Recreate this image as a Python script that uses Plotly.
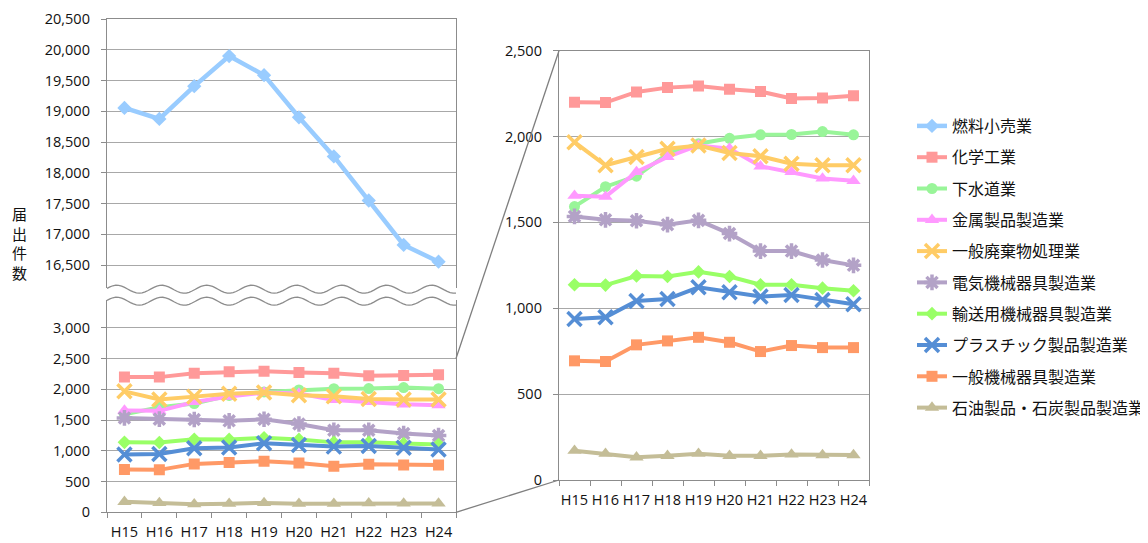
import numpy as np
import plotly.graph_objects as go

# ---------------- data ----------------
categories = ["H15", "H16", "H17", "H18", "H19", "H20", "H21", "H22", "H23", "H24"]

fuel_retail = [19054, 18875, 19408, 19897, 19587, 18902, 18266, 17549, 16826, 16554]
chemical = [2200, 2198, 2260, 2285, 2295, 2275, 2262, 2222, 2225, 2237]
sewerage = [1592, 1708, 1769, 1900, 1958, 1990, 2010, 2012, 2029, 2010]
metal_products = [1656, 1650, 1794, 1881, 1948, 1930, 1827, 1794, 1756, 1742]
waste_treatment = [1967, 1833, 1881, 1929, 1948, 1904, 1885, 1842, 1833, 1833]
electrical_machinery = [1535, 1515, 1510, 1487, 1512, 1435, 1333, 1333, 1281, 1250]
transport_machinery = [1137, 1135, 1188, 1185, 1212, 1185, 1137, 1137, 1117, 1102]
plastic_products = [938, 948, 1043, 1054, 1122, 1093, 1068, 1078, 1048, 1023]
general_machinery = [694, 690, 787, 810, 831, 802, 748, 783, 771, 771]
petroleum_coal = [171, 153, 132, 141, 153, 141, 141, 149, 145, 145]

series_names = ["化学工業", "下水道業", "金属製品製造業", "一般廃棄物処理業", "電気機械器具製造業",
                "輸送用機械器具製造業", "プラスチック製品製造業", "一般機械器具製造業", "石油製品・石炭製品製造業"]
series_values = [chemical, sewerage, metal_products, waste_treatment, electrical_machinery,
                 transport_machinery, plastic_products, general_machinery, petroleum_coal]

# ---------------- styles ----------------
colors = ["#FF9999", "#99F599", "#FF99FF", "#FFCC66", "#B3A2C7",
          "#99FF66", "#558ED5", "#FF9966", "#C4BD97"]
symbols = ["square", "circle", "triangle-up", "x-thin-open", "asterisk-open",
           "diamond", "x-thin-open", "square", "triangle-up"]
sizes = [11, 11, 12.5, 14, 13, 10.5, 14, 11, 12.5]

W, H = 1148, 543
OFF = 8  # page body margin offset
def py(p):  # screen pixel y -> paper
    return 1 - (p - OFF) / H
def px(p):
    return (p - OFF) / W

# panel geometry (screen pixels)
LX0, LX1 = 107, 456
RX0, RX1 = 559, 869
TOP_Y0, TOP_Y1 = 19, 288
BOT_Y0, BOT_Y1 = 300, 512.3
R_Y0, R_Y1 = 50.7, 480

scale = 246 / 4000.0  # px per unit
top_range = [20500 - (TOP_Y1 - TOP_Y0) / scale, 20500]
bot_range = [0, (BOT_Y1 - BOT_Y0) / scale]
right_range = [0, 2500]

fig = go.Figure()

fig.add_trace(go.Scatter(
    x=categories, y=fuel_retail, name="燃料小売業", xaxis="x2", yaxis="y2",
    mode="lines+markers", line=dict(color="#99CCFF", width=4.5),
    marker=dict(symbol="diamond", size=11, color="#99CCFF"),
    legendgroup="g0"))

for i, (nm, vals) in enumerate(zip(series_names, series_values)):
    mk = dict(symbol=symbols[i], size=sizes[i], color=colors[i])
    if "open" in symbols[i]:
        mk["line"] = dict(color=colors[i], width=3.5)
    fig.add_trace(go.Scatter(
        x=categories, y=vals, name=nm, xaxis="x", yaxis="y",
        mode="lines+markers", line=dict(color=colors[i], width=4),
        marker=mk, legendgroup="g%d" % (i + 1)))

for i, (nm, vals) in enumerate(zip(series_names, series_values)):
    mk = dict(symbol=symbols[i], size=sizes[i], color=colors[i])
    if "open" in symbols[i]:
        mk["line"] = dict(color=colors[i], width=3.5)
    fig.add_trace(go.Scatter(
        x=categories, y=vals, name=nm, xaxis="x3", yaxis="y3",
        mode="lines+markers", line=dict(color=colors[i], width=4),
        marker=mk, showlegend=False, legendgroup="g%d" % (i + 1)))

AX = "#8C8C8C"
GRID = "#A8A8A8"
tickfont = dict(family="Open Sans", size=14.5, color="#111111")

common_y = dict(tickformat=",d", dtick=500, showgrid=True, gridcolor=GRID, gridwidth=1.2,
                showline=True, linecolor=AX, linewidth=1.3, mirror=True,
                ticks="outside", ticklen=5, tickcolor=AX, tickfont=tickfont,
                zeroline=False, ticklabelstandoff=8, fixedrange=True, automargin=False)
common_x = dict(type="category", range=[-0.5, 9.5], showgrid=False, tickangle=0,
                showline=True, linecolor=AX, linewidth=1.3, tickfont=tickfont,
                fixedrange=True, automargin=False)

fig.update_layout(
    width=W, height=H, margin=dict(l=0, r=0, t=0, b=0, autoexpand=False),
    paper_bgcolor="white", plot_bgcolor="white",
    xaxis=dict(domain=[px(LX0), px(LX1)], anchor="y", ticks="outside", tickson="boundaries",
               ticklen=5, tickcolor=AX, ticklabelstandoff=6, **common_x),
    yaxis=dict(domain=[py(BOT_Y1), py(BOT_Y0)], anchor="x", range=bot_range, tick0=0, **common_y),
    xaxis2=dict(domain=[px(LX0), px(LX1)], anchor="y2", side="top", showticklabels=False,
                ticks="", **common_x),
    yaxis2=dict(domain=[py(TOP_Y1), py(TOP_Y0)], anchor="x2", range=top_range, tick0=16500, **common_y),
    xaxis3=dict(domain=[px(RX0), px(RX1)], anchor="y3", ticks="outside", tickson="boundaries",
                ticklen=5, tickcolor=AX, ticklabelstandoff=6, mirror=True, **common_x),
    yaxis3=dict(domain=[py(R_Y1), py(R_Y0)], anchor="x3", range=right_range, tick0=0, **common_y),
    legend=dict(x=px(912), y=py(109), xanchor="left", yanchor="top",
                font=dict(family="Noto Sans CJK JP", size=16, color="#111111"),
                tracegroupgap=7.5, bgcolor="rgba(0,0,0,0)"),
    showlegend=True,
)

# y-axis title (vertical stacked characters)
fig.add_annotation(text="届<br>出<br>件<br>数", x=px(19), y=py(243), xref="paper", yref="paper",
                   showarrow=False, font=dict(family="Noto Sans CJK JP", size=15, color="#111111"),
                   xanchor="center", yanchor="middle")

# break waves
xs = np.linspace(LX0, LX1, 120)
for yc in (289.2, 301.2):
    ys = yc - 4 * np.cos(2 * np.pi * (xs - 116.7) / 45.0)
    path = "M " + " L ".join("%.5f,%.5f" % (px(a), py(b)) for a, b in zip(xs, ys))
    fig.add_shape(type="path", path=path, xref="paper", yref="paper",
                  line=dict(color=AX, width=1.3))

# connector lines from left lower panel to right zoom panel
def left_bottom_y(v):
    return BOT_Y1 - (v - bot_range[0]) / (bot_range[1] - bot_range[0]) * (BOT_Y1 - BOT_Y0)
def right_y(v):
    return R_Y1 - (v - right_range[0]) / (right_range[1] - right_range[0]) * (R_Y1 - R_Y0)

for v in (right_range[1], right_range[0]):
    fig.add_shape(type="line", xref="paper", yref="paper",
                  x0=px(LX1), y0=py(left_bottom_y(v)), x1=px(RX0), y1=py(right_y(v)),
                  line=dict(color="#7F7F7F", width=1.3))

fig.write_html("out.html")
